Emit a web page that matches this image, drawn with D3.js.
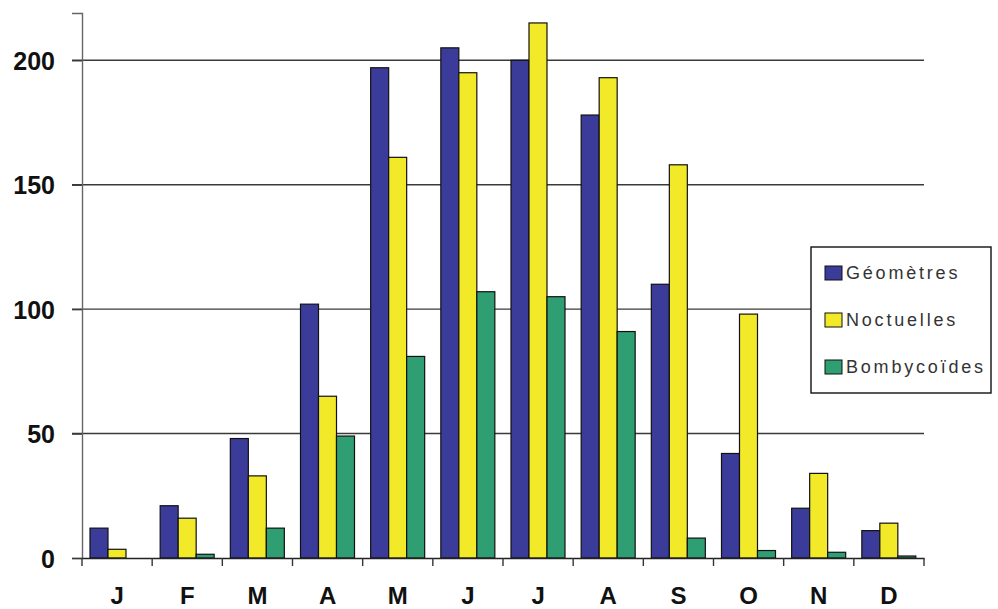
<!DOCTYPE html>
<html>
<head>
<meta charset="utf-8">
<script src="https://cdn.jsdelivr.net/npm/d3@7"></script>
<style>
  body { margin: 0; background: #fff; }
  .canvas svg { display: block; }
</style>
</head>
<body>
<div class="canvas"></div>
<script>
// data
const months = ['J', 'F', 'M', 'A', 'M', 'J', 'J', 'A', 'S', 'O', 'N', 'D'];
const series = ['Géomètres', 'Noctuelles', 'Bombycoïdes'];
const geometres   = [12, 21, 48, 102, 197, 205, 200, 178, 110, 42, 20, 11];
const noctuelles  = [3.5, 16, 33, 65, 161, 195, 215, 193, 158, 98, 34, 14];
const bombycoides = [0, 1.5, 12, 49, 81, 107, 105, 91, 8, 3, 2.3, 0.8];
const yTicks = [0, 50, 100, 150, 200];
const colors = ['#3b3c9a', '#f2e929', '#2f9e72'];

const values = [geometres, noctuelles, bombycoides];

const svg = d3.select('.canvas').append('svg')
    .attr('width', 998)
    .attr('height', 609);

const plotLeft = 82, plotRight = 924, plotTop = 13, plotBottom = 558;

const x0 = d3.scaleBand().domain(d3.range(months.length)).range([plotLeft, plotRight]);
const x1 = d3.scaleBand().domain(d3.range(series.length)).range([8, 62]);
const y = d3.scaleLinear().domain([0, 219]).range([plotBottom, plotTop]);

// gridlines
svg.append('g')
    .selectAll('line')
    .data(yTicks.filter(d => d > 0))
    .join('line')
    .attr('x1', plotLeft - 10)
    .attr('x2', plotRight)
    .attr('y1', d => y(d))
    .attr('y2', d => y(d))
    .attr('stroke', '#3a3a3a')
    .attr('stroke-width', 1.4);

// y axis
const yAxis = svg.append('g')
    .attr('transform', `translate(${plotLeft},0)`)
    .call(d3.axisLeft(y).tickValues(yTicks).tickSize(10).tickPadding(17));
yAxis.select('.domain').attr('stroke', '#666').attr('stroke-width', 1.4);
yAxis.selectAll('.tick line').attr('stroke', '#3a3a3a').attr('stroke-width', 1.4);
yAxis.selectAll('.tick text')
    .style('font-family', 'Liberation Sans, Arial, sans-serif')
    .style('font-weight', 'bold')
    .style('font-size', '25px')
    .attr('fill', '#111')
    .attr('dy', '0.36em');

// bars
svg.append('g')
    .selectAll('g')
    .data(months.map((m, i) => i))
    .join('g')
    .attr('transform', i => `translate(${x0(i)},0)`)
    .selectAll('rect')
    .data(i => values.map((s, k) => ({ k: k, v: s[i] })))
    .join('rect')
    .attr('x', d => x1(d.k))
    .attr('width', x1.bandwidth())
    .attr('y', d => y(d.v))
    .attr('height', d => y(0) - y(d.v))
    .attr('fill', d => colors[d.k])
    .attr('stroke', '#111')
    .attr('stroke-width', 1.2);

// x axis
const xAxis = svg.append('g')
    .attr('transform', `translate(0,${plotBottom})`)
    .call(d3.axisBottom(x0).tickSize(0).tickPadding(29).tickFormat(i => months[i]));
xAxis.select('.domain').attr('stroke', '#222').attr('stroke-width', 1.6);
xAxis.selectAll('.tick text')
    .style('font-family', 'Liberation Sans, Arial, sans-serif')
    .style('font-weight', 'bold')
    .style('font-size', '24px')
    .attr('fill', '#111');

// category separators below the axis
svg.append('g')
    .selectAll('line')
    .data(d3.range(months.length + 1))
    .join('line')
    .attr('x1', i => plotLeft + i * x0.step())
    .attr('x2', i => plotLeft + i * x0.step())
    .attr('y1', plotBottom)
    .attr('y2', plotBottom + 8)
    .attr('stroke', '#333')
    .attr('stroke-width', 1.4);

// legend
const legend = svg.append('g');
legend.append('rect')
    .attr('x', 811)
    .attr('y', 247)
    .attr('width', 180)
    .attr('height', 146)
    .attr('fill', '#fff')
    .attr('stroke', '#111')
    .attr('stroke-width', 1.4);

const item = legend.selectAll('g.item')
    .data(series)
    .join('g')
    .attr('class', 'item')
    .attr('transform', (d, i) => `translate(825,${273 + i * 47})`);

item.append('rect')
    .attr('x', 0)
    .attr('y', -7)
    .attr('width', 17)
    .attr('height', 14)
    .attr('fill', (d, i) => colors[i])
    .attr('stroke', '#111')
    .attr('stroke-width', 1);

item.append('text')
    .attr('x', 21)
    .attr('y', 0)
    .attr('dy', '0.36em')
    .text(d => d)
    .style('font-family', 'Liberation Sans, Arial, sans-serif')
    .style('font-size', '18px')
    .style('letter-spacing', '2.8px')
    .attr('fill', '#333');
</script>
</body>
</html>
